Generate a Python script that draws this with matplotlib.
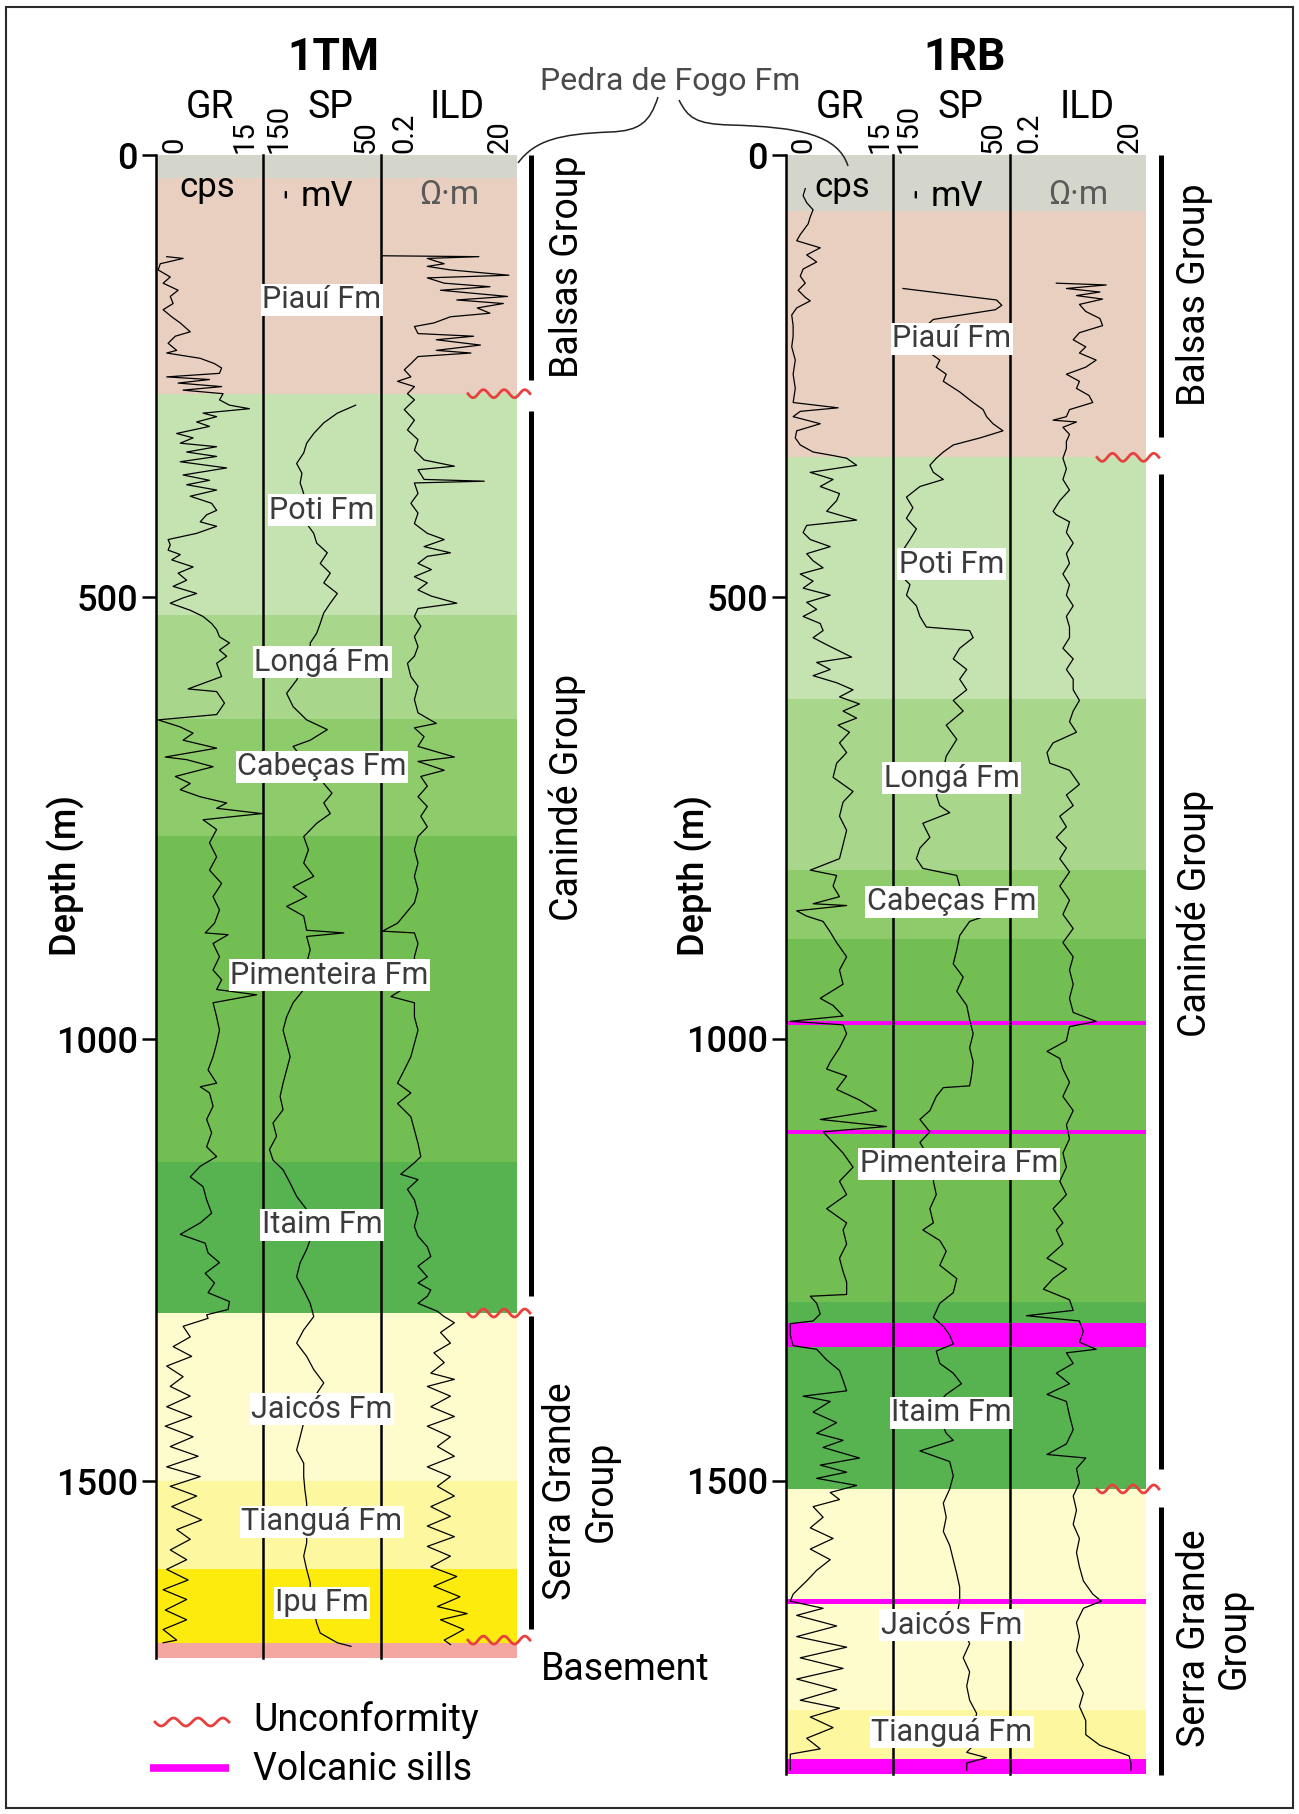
import numpy as np
import matplotlib
matplotlib.use('Agg')
import matplotlib.pyplot as plt
from matplotlib.path import Path
from matplotlib.patches import PathPatch, Rectangle

plt.rcParams['font.family'] = ['Roboto', 'DejaVu Sans']
NARROW = ['Liberation Sans Narrow', 'Roboto', 'DejaVu Sans']

# ---------------- data ----------------
depth_ticks = [0, 500, 1000, 1500]

fm_colors = {
    'Pedra de Fogo': '#d5d6cb', 'Piauí': '#e8cfc0', 'Poti': '#c5e2b1',
    'Longá': '#a8d68b', 'Cabeças': '#8ecb6b', 'Pimenteira': '#72be53',
    'Itaim': '#56b350', 'Jaicós': '#fefccc', 'Tianguá': '#fdf79f',
    'Ipu': '#fdeb0e', 'Basement': '#f4a6a1',
}

# 1TM well
fm_1tm = ['Pedra de Fogo', 'Piauí', 'Poti', 'Longá', 'Cabeças', 'Pimenteira',
          'Itaim', 'Jaicós', 'Tianguá', 'Ipu', 'Basement']
fm_1tm_tops = [0, 26, 270, 520, 638, 770, 1139, 1310, 1500, 1600, 1683]
fm_1tm_label_depth = [None, 164, 402, 574, 692, 928, 1210, 1419, 1546, 1638, None]
td_1tm = 1700

gr_1tm = [(115,1.5),(117,3.8),(123,0.6),(130,0.3),(138,2.0),(145,1.0),(153,3.1),(160,2.0),(168,2.4),(175,1.0),
          (183,2.2),(190,3.4),(200,4.8),(205,2.7),(213,1.7),(221,2.9),(224,1.5),(230,6.2),(236,8.2),(241,9.2),
          (247,8.9),(251,1.5),(254,7.5),(258,3.1),(262,9.2),(266,3.8),(270,9.4),(273,9.2),(277,8.9),(283,10.3),
          (287,13.1),(292,6.6),(296,8.5),(302,5.7),(307,7.5),(315,2.9),(320,5.2),(326,3.4),(330,8.5),(336,4.3),
          (341,8.5),(347,3.4),(354,9.9),(362,3.8),(368,7.5),(373,4.3),(379,8.5),(386,4.8),(394,7.8),(402,8.5),
          (407,7.1),(415,6.2),(420,8.5),(428,5.7),(435,1.7),(441,2.0),(447,1.7),(452,3.4),(458,2.2),(466,5.2),
          (473,3.1),(481,4.3),(488,2.4),(496,5.7),(501,3.8),(507,2.0),(515,4.8),(522,6.6),(530,7.8),(537,8.5),
          (545,8.9),(552,10.3),(560,8.9),(567,9.9),(575,8.5),(590,9.2),(604,4.5),(607,8.5),(620,9.6),(633,8.5),
          (639,0.3),(647,3.4),(654,5.2),(662,3.8),(671,8.5),(681,1.3),(684,4.3),(692,8.0),(703,2.7),(711,4.8),
          (718,3.4),(726,6.2),(733,9.9),(739,8.5),(745,14.8),(752,6.6),(763,8.5),(778,7.5),(794,8.5),(809,7.5),
          (824,9.2),(839,8.0),(854,8.9),(869,8.2),(880,6.9),(882,10.1),(892,8.0),(907,8.9),(922,8.0),(933,9.2),
          (944,8.5),(950,14.1),(959,8.0),(975,8.5),(990,8.9),(1005,8.5),(1020,8.0),(1035,7.3),(1050,8.5),(1054,6.2),
          (1061,7.5),(1076,8.0),(1091,7.1),(1106,7.8),(1122,7.1),(1133,8.5),(1144,6.2),(1156,4.8),(1167,6.6),(1182,7.1),
          (1197,7.8),(1208,6.2),(1221,3.4),(1231,6.9),(1242,7.3),(1253,8.9),(1265,6.9),(1276,8.2),(1287,7.3),(1297,10.3),
          (1306,10.1),(1312,7.1),(1316,7.3),(1325,3.8),(1337,4.8),(1348,2.4),(1359,5.0),(1370,1.5),(1382,3.8),(1393,2.0),
          (1404,4.8),(1416,1.5),(1427,5.0),(1438,1.3),(1450,5.2),(1461,2.0),(1472,5.9),(1484,1.5),(1495,6.2),(1506,2.0),
          (1517,5.7),(1529,2.2),(1544,6.4),(1555,2.9),(1566,4.8),(1578,2.0),(1589,4.3),(1600,1.5),(1612,4.5),(1623,1.0),
          (1634,4.3),(1646,1.3),(1657,4.3),(1668,1.0),(1680,2.9),(1683,1.0)]

sp_1tm = [(283,7),(292,-24),(303,-47),(315,-64),(326,-76),(337,-81),(349,-93),(360,-84),(371,-87),(383,-81),
          (394,-84),(405,-70),(417,-76),(428,-64),(439,-59),(450,-41),(462,-53),(473,-36),(484,-47),(496,-24),
          (507,-36),(518,-47),(530,-53),(541,-59),(552,-70),(560,-70),(594,-93),(609,-110),(624,-99),(639,-76),
          (650,-41),(662,-70),(669,-99),(684,-81),(711,-47),(722,-33),(733,-47),(745,-36),(756,-59),(771,-81),
          (786,-73),(801,-81),(816,-64),(828,-99),(839,-76),(850,-110),(861,-81),(877,-76),(880,-13),(884,-76),
          (899,-70),(914,-76),(929,-76),(944,-81),(959,-99),(975,-110),(990,-116),(1005,-110),(1020,-104),(1035,-110),
          (1050,-116),(1065,-121),(1080,-116),(1095,-133),(1110,-127),(1125,-139),(1137,-133),(1148,-116),(1163,-104),(1178,-93),
          (1193,-76),(1212,-64),(1227,-70),(1238,-76),(1253,-87),(1269,-93),(1284,-81),(1299,-70),(1314,-64),(1329,-81),
          (1344,-93),(1359,-76),(1374,-64),(1389,-47),(1412,-70),(1434,-81),(1450,-87),(1465,-93),(1480,-81),(1495,-81),
          (1510,-79),(1525,-76),(1540,-76),(1555,-76),(1570,-76),(1585,-81),(1600,-76),(1615,-70),(1631,-70),(1646,-64),
          (1661,-59),(1672,-53),(1683,-24),(1687,-1)]

ild_1tm = [(114,0.21),(115,5.5),(117,0.96),(123,1.7),(126,0.96),(130,2.1),(136,15.2),(139,0.96),(145,1.7),(149,8.0),
           (153,1.5),(160,14.5),(164,2.6),(168,12.6),(173,5.2),(179,8.0),(183,2.1),(190,1.2),(194,0.62),(202,0.70),
           (205,4.6),(209,1.3),(215,5.8),(221,1.3),(224,4.2),(228,0.70),(236,0.55),(243,0.44),(251,0.55),(256,0.35),
           (262,0.62),(270,0.49),(277,0.62),(288,0.44),(300,0.62),(311,0.49),(322,0.70),(334,0.62),(345,0.86),(352,2.4),
           (356,0.70),(367,0.86),(369,6.6),(371,0.62),(383,0.70),(394,0.55),(405,0.70),(417,0.62),(428,0.96),(435,1.7),
           (443,0.86),(450,2.1),(454,0.96),(462,0.70),(469,1.1),(477,0.62),(484,0.96),(492,0.70),(499,1.1),(507,2.6),
           (513,0.70),(522,0.62),(533,0.77),(545,0.62),(556,0.70),(567,0.62),(575,0.49),(590,0.55),(601,0.70),(616,0.62),
           (631,0.70),(643,1.3),(648,0.62),(658,0.86),(669,0.70),(681,2.4),(686,0.70),(696,1.7),(703,0.77),(714,0.96),
           (726,0.70),(737,0.96),(748,0.77),(760,0.96),(771,0.70),(786,0.62),(801,0.70),(816,0.62),(831,0.70),(846,0.62),
           (869,0.35),(878,0.21),(880,0.62),(892,0.70),(907,0.62),(922,0.62),(933,0.70),(952,0.28),(959,0.62),(975,0.62),
           (990,0.70),(1005,0.62),(1020,0.55),(1035,0.44),(1050,0.35),(1061,0.55),(1073,0.35),(1088,0.55),(1103,0.62),(1118,0.70),
           (1133,0.77),(1140,0.62),(1153,0.39),(1159,0.70),(1170,0.49),(1182,0.62),(1197,0.70),(1212,0.62),(1223,0.70),(1235,0.96),
           (1246,1.08),(1257,0.70),(1269,0.96),(1276,0.70),(1284,1.08),(1291,0.96),(1299,0.70),(1308,1.35),(1314,1.7),(1321,2.4),
           (1332,1.5),(1344,2.1),(1355,1.2),(1366,1.7),(1378,1.08),(1385,2.4),(1393,0.96),(1404,2.1),(1416,1.08),(1427,2.4),
           (1438,0.96),(1450,2.1),(1461,1.35),(1472,2.4),(1484,0.96),(1495,2.1),(1506,1.35),(1517,2.4),(1529,1.08),(1540,2.1),
           (1551,0.96),(1563,2.4),(1574,0.96),(1585,2.1),(1597,1.08),(1608,2.6),(1619,1.2),(1631,2.9),(1642,1.35),(1650,3.7),
           (1657,1.5),(1668,3.3),(1680,1.7),(1685,2.1)]

sills_1tm = []
unconf_1tm = [270, 1310, 1680]
groups_1tm = ['Balsas Group', 'Canindé Group', 'Serra Grande\nGroup']
groups_1tm_top = [0, 290, 1313]
groups_1tm_base = [254, 1291, 1667]
groups_1tm_mid = [126, 727, 1512]

# 1RB well
fm_1rb = ['Pedra de Fogo', 'Piauí', 'Poti', 'Longá', 'Cabeças', 'Pimenteira',
          'Itaim', 'Jaicós', 'Tianguá']
fm_1rb_tops = [0, 63, 342, 615, 809, 887, 1297, 1509, 1759]
fm_1rb_label_depth = [None, 208, 463, 705, 845, 1141, 1423, 1663, 1784]
td_1rb = 1831

gr_1rb = [(38,2.7),(46,2.4),(54,2.9),(62,3.8),(70,3.4),(78,3.1),(90,2.0),(97,1.5),(105,4.8),(113,2.9),
          (121,4.3),(129,2.4),(137,2.0),(145,2.7),(153,1.7),(161,2.7),(165,3.4),(173,1.5),(181,0.8),(193,1.0),
          (205,1.0),(217,0.8),(232,1.3),(248,1.0),(264,1.3),(280,1.0),(286,7.3),(290,2.0),(296,1.0),(304,4.8),
          (312,1.5),(320,1.3),(328,2.0),(336,3.8),(340,6.6),(343,8.5),(351,9.9),(359,3.4),(367,6.6),(375,4.8),
          (383,7.5),(391,7.1),(403,5.7),(413,9.9),(419,2.9),(427,2.4),(435,3.4),(443,6.2),(451,2.9),(459,3.8),
          (467,5.2),(474,2.0),(482,3.8),(490,2.4),(498,6.2),(506,2.9),(514,4.3),(522,2.4),(530,4.8),(538,5.2),
          (546,3.8),(554,5.7),(568,9.2),(574,4.3),(582,6.2),(589,3.8),(597,7.1),(605,9.4),(613,7.5),(621,10.3),
          (629,8.0),(637,9.9),(645,7.3),(653,8.9),(665,7.5),(676,8.5),(688,7.1),(704,6.6),(720,9.4),(732,8.0),
          (748,7.5),(764,8.5),(780,8.0),(796,7.5),(809,3.4),(815,7.1),(827,6.6),(839,7.5),(847,3.8),(849,8.5),
          (855,1.5),(861,2.9),(867,5.2),(879,6.2),(891,7.1),(907,8.5),(922,7.5),(938,8.0),(954,4.8),(962,6.6),
          (974,8.0),(980,0.6),(984,8.0),(994,8.5),(1010,7.5),(1026,6.2),(1034,5.7),(1042,8.5),(1057,7.1),(1069,10.3),
          (1081,12.7),(1091,4.8),(1099,14.1),(1105,5.2),(1117,6.6),(1129,8.0),(1145,9.4),(1161,7.5),(1176,8.5),(1192,5.7),
          (1208,8.5),(1216,8.0),(1232,8.5),(1248,7.5),(1263,8.0),(1275,8.5),(1289,8.5),(1291,3.4),(1299,4.3),(1311,4.8),
          (1319,3.8),(1322,0.6),(1335,0.6),(1347,1.0),(1351,4.3),(1363,5.7),(1375,7.5),(1386,8.0),(1398,8.5),(1404,2.4),
          (1410,6.2),(1422,3.8),(1434,7.1),(1446,4.3),(1454,8.0),(1462,5.2),(1474,10.3),(1482,4.8),(1490,8.5),(1497,4.3),
          (1505,9.9),(1513,6.2),(1521,7.5),(1529,3.8),(1541,5.2),(1553,3.4),(1565,6.6),(1577,3.4),(1589,6.2),(1601,4.3),
          (1613,2.9),(1620,2.0),(1628,1.0),(1636,0.6),(1644,5.2),(1652,1.5),(1664,7.1),(1676,1.5),(1688,8.5),(1700,2.0),
          (1712,8.0),(1724,1.5),(1736,7.1),(1748,2.0),(1757,7.5),(1767,3.4),(1779,6.6),(1791,2.9),(1803,4.8),(1809,0.6),
          (1827,0.6)]

sp_1rb = [(151,-133),(164,27),(170,36),(175,25),(186,-81),(193,-93),(224,-87),(232,-70),(240,-76),(248,-59),
          (256,-64),(268,-36),(280,-13),(288,4),(296,10),(304,21),(312,38),(320,-1),(328,-47),(336,-64),
          (343,-76),(351,-87),(359,-81),(367,-64),(375,-104),(387,-127),(399,-116),(411,-127),(423,-110),(435,-121),
          (447,-133),(462,-127),(474,-139),(486,-121),(498,-127),(510,-110),(522,-104),(534,-93),(538,-19),(546,-13),
          (558,-36),(570,-47),(582,-24),(593,-36),(605,-24),(617,-47),(629,-30),(645,-59),(661,-41),(680,-59),
          (696,-64),(712,-59),(724,-76),(736,-70),(744,-53),(756,-99),(772,-87),(784,-104),(796,-110),(807,-99),
          (815,-41),(827,-36),(843,-13),(859,16),(867,-19),(883,-36),(899,-41),(915,-47),(930,-30),(946,-41),
          (962,-24),(978,-19),(994,-13),(1010,-19),(1026,-13),(1042,-16),(1053,-19),(1055,-64),(1065,-76),(1081,-87),
          (1091,-104),(1105,-87),(1117,-104),(1129,-93),(1145,-76),(1161,-81),(1176,-76),(1192,-87),(1208,-81),(1216,-99),
          (1228,-70),(1240,-59),(1256,-70),(1271,-41),(1287,-47),(1299,-70),(1315,-81),(1325,-64),(1335,-53),(1345,-47),
          (1353,-76),(1367,-70),(1378,-47),(1390,-33),(1402,-59),(1414,-76),(1430,-70),(1446,-59),(1454,-47),(1466,-104),
          (1478,-53),(1494,-47),(1509,-53),(1525,-64),(1541,-59),(1557,-64),(1573,-53),(1589,-47),(1605,-41),(1620,-36),
          (1636,-36),(1652,-41),(1668,-30),(1684,-19),(1700,-30),(1716,-19),(1732,-24),(1748,-19),(1763,-7),(1779,-13),
          (1795,-7),(1807,-24),(1813,10),(1819,-24),(1827,-24)]

ild_1rb = [(145,0.96),(147,5.2),(151,1.35),(155,4.2),(159,1.9),(163,4.6),(169,2.1),(177,2.6),(185,4.2),(193,4.6),
           (201,2.1),(209,1.7),(217,2.6),(224,2.1),(232,3.7),(240,2.6),(248,1.35),(256,2.1),(264,1.9),(272,2.9),
           (280,3.3),(288,1.5),(296,1.35),(300,0.86),(302,1.9),(308,1.2),(316,1.5),(324,1.35),(332,1.35),(343,1.2),
           (355,1.35),(367,1.2),(379,1.5),(391,1.08),(403,0.86),(407,0.96),(415,1.5),(427,1.35),(439,1.7),(451,1.35),
           (462,1.5),(474,1.2),(486,1.5),(498,1.35),(510,1.7),(522,1.35),(534,1.5),(546,1.5),(558,1.2),(570,1.7),
           (582,1.35),(593,1.7),(605,1.7),(617,2.1),(629,1.7),(641,1.5),(653,1.9),(665,0.86),(676,0.70),(688,0.77),
           (696,1.5),(712,2.1),(724,1.35),(736,1.7),(748,1.08),(760,1.35),(772,0.96),(784,1.35),(796,1.08),(811,1.5),
           (827,1.08),(843,1.5),(859,1.2),(875,1.7),(891,1.2),(907,1.7),(922,1.5),(938,1.7),(954,1.5),(970,1.7),
           (980,3.7),(986,1.5),(1002,1.35),(1014,0.70),(1022,1.08),(1034,1.2),(1049,1.5),(1065,1.2),(1081,1.7),(1097,1.35),
           (1113,1.5),(1129,1.2),(1145,1.35),(1161,1.08),(1176,1.35),(1192,0.86),(1208,1.2),(1216,0.96),(1232,1.2),(1248,0.70),
           (1260,1.35),(1271,0.86),(1283,0.62),(1295,1.5),(1307,1.7),(1313,0.35),(1319,2.1),(1331,2.4),(1343,2.1),(1351,3.7),
           (1355,1.35),(1367,1.7),(1378,0.96),(1390,1.5),(1402,0.70),(1410,1.35),(1426,1.5),(1442,1.7),(1458,1.35),(1470,0.70),
           (1474,2.6),(1486,1.9),(1502,2.1),(1517,1.7),(1533,1.9),(1549,1.7),(1565,2.1),(1581,1.9),(1597,2.1),(1613,2.4),
           (1628,3.3),(1636,4.4),(1644,2.4),(1660,1.9),(1676,2.1),(1692,1.9),(1708,2.4),(1724,1.9),(1740,2.4),(1755,2.1),
           (1771,2.6),(1787,2.6),(1799,4.2),(1811,11.3),(1819,12.0),(1827,12.0)]

sills_1rb = [(980, 984.5), (1103, 1107), (1321, 1348), (1634, 1639), (1814, 1831)]
unconf_1rb = [342, 1509]
groups_1rb = ['Balsas Group', 'Canindé Group', 'Serra Grande\nGroup']
groups_1rb_top = [0, 361, 1529]
groups_1rb_base = [319, 1486, 1833]
groups_1rb_mid = [158, 858, 1678]

# ---------------- layout ----------------
W, H = 1299, 1814
TOP = 155
PX_PER_M = 0.884
RED = '#e8403e'
SILL = '#ff00ff'

fig = plt.figure(figsize=(W / 100, H / 100), dpi=100)


def rect(x0, x1, dmax):
    y_bot = TOP + dmax * PX_PER_M
    return [x0 / W, 1 - y_bot / H, (x1 - x0) / W, (y_bot - TOP) / H]


def squiggle(ax, xa, xb, y, amp, transform, n=3, lw=2.0):
    t = np.linspace(0, 1, 120)
    ax.plot(xa + (xb - xa) * t, y + amp * np.sin(2 * np.pi * n * t),
            color=RED, lw=lw, transform=transform, clip_on=False, zorder=6)


def draw_well(edges, dmax, fms, tops, label_depth, gr, sp, ild, sills, unconf,
              groups, g_top, g_base, g_mid, g_xs):
    x0, x1, x2, x3 = edges
    bg = fig.add_axes(rect(x0, x3, dmax), zorder=0)
    bg.set_xlim(0, 1)
    bg.set_ylim(dmax, 0)
    bases = tops[1:] + [dmax]
    for name, t, b in zip(fms, tops, bases):
        bg.axhspan(t, b, color=fm_colors[name], lw=0)
    for t, b in sills:
        bg.axhspan(t, b, color=SILL, lw=0)
    for s in ['top', 'right', 'bottom']:
        bg.spines[s].set_visible(False)
    bg.spines['left'].set_linewidth(1.8)
    bg.set_xticks([])
    bg.set_yticks(depth_ticks)
    bg.tick_params(axis='y', direction='out', length=10, width=1.8, pad=3, labelsize=26)
    for lab in bg.get_yticklabels():
        lab.set_fontweight('medium')

    tracks = [((x0, x1), gr, (0, 15), False),
              ((x1, x2), sp, (-150, 50), False),
              ((x2, x3), ild, (0.2, 20), True)]
    for i, ((xa, xb), curve, xlim, logx) in enumerate(tracks):
        ax = fig.add_axes(rect(xa, xb, dmax), zorder=1)
        ax.patch.set_visible(False)
        if logx:
            ax.set_xscale('log')
        ax.set_xlim(*xlim)
        ax.set_ylim(dmax, 0)
        d = np.array([p[0] for p in curve])
        v = np.array([p[1] for p in curve])
        ax.plot(v, d, color='black', lw=0.9)
        for s in ['top', 'right', 'bottom']:
            ax.spines[s].set_visible(False)
        ax.spines['left'].set_visible(i > 0)
        ax.spines['left'].set_linewidth(1.8)
        ax.tick_params(which='both', bottom=False, labelbottom=False, left=False, labelleft=False)

    lab = fig.add_axes(rect(x0, x3, dmax), zorder=2)
    lab.patch.set_visible(False)
    lab.axis('off')
    lab.set_xlim(0, 1)
    lab.set_ylim(dmax, 0)
    tr = lab.get_yaxis_transform()
    for name, dd in zip(fms, label_depth):
        if dd is None:
            continue
        xc = 0.48 if name == 'Pimenteira' else 0.46
        lab.text(xc, dd, name + ' Fm', transform=tr, ha='center', va='center',
                 fontsize=22, family=NARROW, color='#3b3b3b',
                 bbox=dict(facecolor='white', edgecolor='none', pad=1.0))
    for u in unconf:
        squiggle(lab, 0.864, 1.036, u, 4.5, tr)
    bar_x, text_x, sg_x = g_xs
    for name, t, b, m in zip(groups, g_top, g_base, g_mid):
        lab.plot([bar_x, bar_x], [t, b], color='black', lw=3.6, transform=tr,
                 clip_on=False, solid_capstyle='butt')
        lab.text(sg_x if '\n' in name else text_x, m, name, transform=tr, rotation=90,
                 ha='center', va='center', fontsize=27, linespacing=1.1)
    return lab


left_edges = (156, 263, 381, 517)
right_edges = (786, 893, 1010, 1146)

draw_well(left_edges, td_1tm, fm_1tm, fm_1tm_tops, fm_1tm_label_depth,
          gr_1tm, sp_1tm, ild_1tm, sills_1tm, unconf_1tm,
          groups_1tm, groups_1tm_top, groups_1tm_base, groups_1tm_mid, (1.039, 1.139, 1.177))
draw_well(right_edges, td_1rb, fm_1rb, fm_1rb_tops, fm_1rb_label_depth,
          gr_1rb, sp_1rb, ild_1rb, sills_1rb, unconf_1rb,
          groups_1rb, groups_1rb_top, groups_1rb_base, groups_1rb_mid, (1.042, 1.136, 1.19))

# ---------------- annotations in pixel space ----------------
px = fig.add_axes([0, 0, 1, 1], zorder=3)
px.set_xlim(0, W)
px.set_ylim(H, 0)
px.axis('off')
px.patch.set_visible(False)

px.add_patch(Rectangle((6, 7), 1287, 1801, fill=False, edgecolor='#2b2b2b', lw=1.5))

for xc, title in [(333, '1TM'), (965, '1RB')]:
    px.text(xc, 58, title, ha='center', va='center', fontsize=32, fontweight='bold', family=NARROW)

heads = [(210, 'GR'), (330, 'SP'), (457, 'ILD'), (840, 'GR'), (960, 'SP'), (1087, 'ILD')]
for xc, s in heads:
    px.text(xc, 108, s, ha='center', va='center', fontsize=27, family=NARROW)

scale_labels = ['0', '15', '150', '50', '0.2', '20']
for xs in [(174, 245, 279, 366, 404, 500), (803, 880, 909, 993, 1029, 1130)]:
    for xc, s in zip(xs, scale_labels):
        px.text(xc, 153, s, rotation=90, ha='center', va='bottom', fontsize=21, family=NARROW)

for off, (cx, mx, ox) in [(0, (207, 327, 449)), (630, (842, 957, 1078))]:
    px.text(cx, 188, 'cps', ha='center', va='center', fontsize=25)
    px.text(mx, 196, 'mV', ha='center', va='center', fontsize=25)
    px.text(ox, 195, 'Ω·m', ha='center', va='center', fontsize=24, color='#5a5a5a')
    px.text(287 + off, 194, '-', rotation=90, ha='center', va='center', fontsize=22, family=NARROW)

for xc in [66, 694]:
    px.text(xc, 876, 'Depth (m)', rotation=90, ha='center', va='center', fontsize=26, fontweight='medium')

# Pedra de Fogo annotation
px.text(670, 82, 'Pedra de Fogo Fm', ha='center', va='center', fontsize=23, family=NARROW, color='#4a4a4a')
C = Path.CURVE4
left_path = Path([(658, 97), (650, 122), (640, 131), (610, 132), (560, 134), (535, 140), (518, 163)],
                 [Path.MOVETO, C, C, C, C, C, C])
right_path = Path([(679, 100), (688, 118), (696, 124), (730, 125), (800, 127), (838, 135), (848, 166)],
                  [Path.MOVETO, C, C, C, C, C, C])
for p in [left_path, right_path]:
    px.add_patch(PathPatch(p, fill=False, edgecolor='#222222', lw=1.1))

px.text(541, 1670, 'Basement', ha='left', va='center', fontsize=27)

# legend
squiggle(px, 155, 229, 1722, 4, px.transData)
px.plot([150, 229], [1768, 1768], color=SILL, lw=5.5, solid_capstyle='butt')
px.text(253, 1720, 'Unconformity', ha='left', va='center', fontsize=27)
px.text(253, 1770, 'Volcanic sills', ha='left', va='center', fontsize=27)

fig.savefig('out.png', dpi=100, facecolor='white')
